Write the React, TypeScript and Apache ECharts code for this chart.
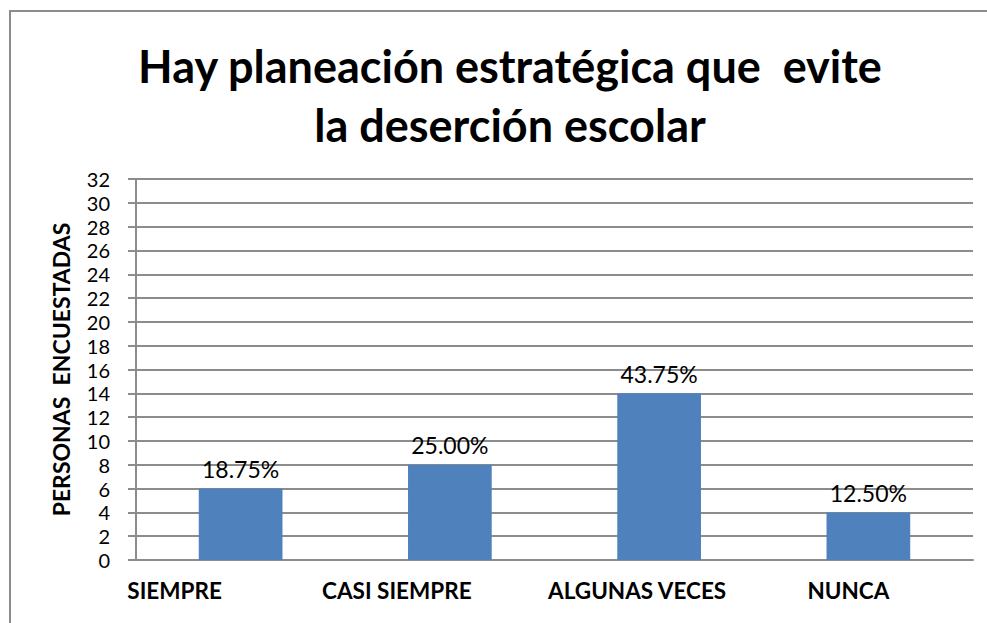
import React, { useEffect, useRef } from "react";
import * as echarts from "echarts";

const titleText = "Hay planeación estratégica que  evite\nla deserción escolar";
const categories = ["SIEMPRE", "CASI SIEMPRE", "ALGUNAS VECES", "NUNCA"];
const personas = [6, 8, 14, 4];
const porcentajes = ["18.75%", "25.00%", "43.75%", "12.50%"];
const yAxisName = "PERSONAS  ENCUESTADAS";
// horizontal shift (px, leftwards) of each category label as in the original
const labelShift = [66, 53, 22, 20];

export default function App() {
  const ref = useRef<HTMLDivElement>(null);
  useEffect(() => {
    if (!ref.current) return;
    const chart = echarts.init(ref.current, null, { renderer: "svg" });
    const grayLine = "#8c8c8c";
    chart.setOption({
      animation: false,
      backgroundColor: "#ffffff",
      graphic: [
        {
          type: "rect",
          shape: { x: 10, y: 11, width: 1000, height: 700 },
          style: { fill: "none", stroke: "#8c8c8c", lineWidth: 2 },
          silent: true,
        },
      ],
      title: {
        text: titleText,
        left: 505,
        top: 31,
        textAlign: "center",
        textStyle: {
          fontFamily: "Lato",
          fontWeight: "bold",
          fontSize: 45,
          lineHeight: 59,
          color: "#000000",
        },
      },
      grid: { left: 136, right: 14, top: 179, bottom: 63, containLabel: false },
      xAxis: {
        type: "category",
        data: categories.map((c, i) => ({
          value: c,
          textStyle: { padding: [0, labelShift[i] * 2, 0, 0] },
        })),
        axisLine: { show: true, lineStyle: { color: grayLine, width: 2 } },
        axisTick: { show: false },
        axisLabel: {
          interval: 0,
          hideOverlap: false,
          color: "#000000",
          fontFamily: "Lato",
          fontWeight: "bold",
          fontSize: 22.5,
          margin: 19,
        },
      },
      yAxis: {
        type: "value",
        min: 0,
        max: 32,
        interval: 2,
        name: yAxisName,
        nameLocation: "middle",
        nameGap: 64,
        nameRotate: 90,
        nameTextStyle: {
          color: "#000000",
          fontFamily: "Lato",
          fontWeight: "bold",
          fontSize: 23,
        },
        axisLine: { show: true, lineStyle: { color: grayLine, width: 2 } },
        axisTick: { show: true, inside: false, length: 8, lineStyle: { color: grayLine, width: 2 } },
        axisLabel: {
          color: "#000000",
          fontFamily: "Lato",
          fontSize: 20,
          lineHeight: 20,
          margin: 26,
        },
        splitLine: { show: true, lineStyle: { color: grayLine, width: 2 } },
      },
      series: [
        {
          type: "bar",
          data: personas,
          barWidth: "40%",
          itemStyle: { color: "#4f81bd" },
          label: {
            show: true,
            position: "top",
            distance: 8,
            color: "#000000",
            fontFamily: "Lato",
            fontSize: 23,
            formatter: (p: any) => porcentajes[p.dataIndex],
          },
        },
      ],
    });
    return () => chart.dispose();
  }, []);
  return <div ref={ref} style={{ width: 987, height: 623, position: "absolute", left: 0, top: 0 }} />;
}
